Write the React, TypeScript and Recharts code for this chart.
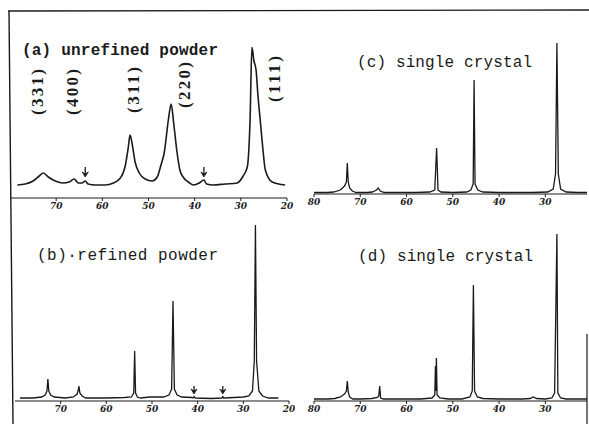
import React from 'react';
import { LineChart, Line, XAxis, YAxis, ReferenceDot } from 'recharts';

// 2θ (deg) vs intensity (a.u.)
const unrefinedPowder: [number, number][] = [
  [78.4, 13], [76.7, 14], [75.0, 17], [73.9, 21], [72.8, 25], [71.7, 21], [70.2, 17],
  [68.5, 15], [67.2, 16], [66.1, 19], [65.2, 15], [64.4, 15], [63.7, 17], [63.1, 14],
  [61.5, 13], [59.4, 13], [57.6, 15], [56.1, 20], [55.0, 33], [54.4, 50], [54.0, 63],
  [53.5, 53], [52.9, 36], [52.0, 25], [50.7, 19], [49.2, 17], [48.1, 21], [47.3, 33],
  [46.6, 45], [45.7, 78], [45.1, 94], [44.5, 73], [43.8, 45], [43.2, 28], [42.5, 21],
  [41.4, 16], [40.3, 13], [39.0, 15], [38.0, 18], [37.4, 14], [36.0, 13], [33.4, 14],
  [30.8, 15], [29.5, 22], [28.6, 31], [28.0, 78], [27.6, 151], [27.2, 138], [26.7, 128],
  [26.3, 103], [25.8, 78], [25.2, 48], [24.7, 28], [23.2, 16], [20.4, 13],
];

const refinedPowder: [number, number][] = [
  [78.9, 3], [76, 3], [74.2, 4], [73.4, 6], [73.0, 10], [72.8, 22], [72.6, 10], [72.2, 6],
  [71.4, 4], [69, 3], [67.2, 4], [66.4, 7], [66.2, 10], [66.0, 15], [65.8, 8], [65.3, 5],
  [64.5, 3], [60, 3], [56, 3.5], [54.5, 4], [54.0, 8], [53.8, 50], [53.6, 8], [53.2, 4],
  [52.5, 3], [50.5, 4], [49.5, 4], [47.5, 4], [46.3, 6], [45.7, 12], [45.4, 100],
  [45.1, 12], [44.5, 6], [43.5, 4], [41.3, 3.5], [41.0, 3], [40.8, 4.5], [40.5, 3],
  [37, 2.5], [34.7, 3], [34.5, 4.5], [34.3, 3], [32, 3.5], [30, 4], [28.8, 5], [28.0, 10],
  [27.6, 40], [27.35, 176], [27.1, 40], [26.6, 10], [25.8, 5], [24.5, 3], [22.3, 3],
];

const singleCrystalC: [number, number][] = [
  [80, 1.5], [77, 1.5], [75.8, 2], [74.3, 4], [73.4, 8], [73.0, 12], [72.8, 31], [72.6, 12],
  [72.3, 6], [71.7, 3], [70.9, 1.5], [68.5, 1.5], [67.4, 2], [66.5, 4], [66.1, 6],
  [65.7, 3], [64.8, 1.5], [58, 1.5], [55, 2], [53.9, 4], [53.5, 46], [53.2, 4], [52.6, 2],
  [50, 1.5], [47, 2], [46.1, 4], [45.6, 10], [45.4, 114], [45.2, 10], [44.6, 4],
  [43.5, 2], [40, 1.5], [33, 1.5], [29.5, 2], [28.3, 5], [27.8, 20], [27.5, 151],
  [27.2, 20], [26.7, 5], [25.5, 2], [23, 1.5], [21, 1.5],
];

const singleCrystalD: [number, number][] = [
  [80, 2], [77, 2], [75.5, 2.5], [74.3, 4], [73.4, 7], [73.0, 10], [72.8, 20], [72.6, 9],
  [72.3, 4], [71.6, 2], [70, 2], [67.5, 2.5], [66.3, 3.5], [66.0, 5], [65.8, 15],
  [65.6, 3], [65.0, 2], [60, 2], [57, 2], [54.5, 3], [53.9, 6], [53.75, 35], [53.65, 10],
  [53.55, 43], [53.4, 6], [52.8, 3], [51, 2], [48, 2], [46.3, 4], [45.8, 10], [45.55, 116],
  [45.3, 10], [44.7, 4], [43.5, 2.5], [40, 2], [35, 2], [33.3, 2.5], [32.6, 4], [31.9, 2.5],
  [30, 2], [28.6, 3], [28.0, 8], [27.5, 167], [27.3, 8], [26.7, 3], [25.5, 2], [23, 2],
  [21, 2],
];

const hklNames = ['(331)', '(400)', '(311)', '(220)', '(111)'];
const hklPeaks = [72.8, 66.0, 53.7, 45.3, 27.3];
const arrowsUnrefined = [63.7, 38.0];
const arrowsRefined = [40.8, 34.5];
const ticksLeft = [70, 60, 50, 40, 30, 20];
const ticksRight = [80, 70, 60, 50, 40, 30];

const INK = '#1a1a1a';
const MONO = '"Liberation Mono", "DejaVu Sans Mono", monospace';
const SERIF = '"Liberation Serif", "DejaVu Serif", serif';

const toRows = (pts: [number, number][]) => pts.map(([t, i]) => ({ t, i }));

// pixel placement of the rotated hkl labels relative to their peaks
const hklPlace = [
  { dx: -6, y: 92 },
  { dx: -2, y: 92 },
  { dx: 2, y: 90 },
  { dx: 14, y: 85 },
  { dx: 21, y: 79 },
];

const Arrow = (len: number, gap: number) => (props: any) => {
  const { cx, cy } = props;
  const tip = cy - gap;
  return (
    <g stroke={INK} strokeWidth={1.3}>
      <line x1={cx} y1={tip - len} x2={cx} y2={tip - 2} />
      <path d={`M${cx - 3},${tip - 5} L${cx},${tip} L${cx + 3},${tip - 5} L${cx},${tip - 3} Z`} fill={INK} strokeWidth={0.8} />
    </g>
  );
};

interface PanelProps {
  left: number;
  top: number;
  width: number;
  height: number;
  margin: { top: number; right: number; left: number; bottom: number };
  points: [number, number][];
  domainX: [number, number];
  ticks: number[];
  maxY: number;
  curve?: 'linear' | 'monotone';
  lineWidth?: number;
  children?: React.ReactNode;
}

const Panel = ({ left, top, width, height, margin, points, domainX, ticks, maxY, curve = 'linear', lineWidth = 1.3, children }: PanelProps) => (
  <div style={{ position: 'absolute', left, top }}>
    <LineChart width={width} height={height} data={toRows(points)} margin={margin}>
      <XAxis
        type="number"
        dataKey="t"
        domain={domainX}
        reversed
        allowDataOverflow
        ticks={ticks}
        interval={0}
        height={17}
        tickSize={3}
        tickMargin={2}
        axisLine={{ stroke: INK, strokeWidth: 1.2 }}
        tickLine={{ stroke: INK, strokeWidth: 1 }}
        tick={{ fontSize: 9, fontFamily: '"DejaVu Serif", serif', fontStyle: 'italic', fontWeight: 'bold', fill: '#222' }}
      />
      <YAxis hide type="number" domain={[0, maxY]} allowDataOverflow />
      <Line
        type={curve}
        dataKey="i"
        stroke={INK}
        strokeWidth={lineWidth}
        dot={false}
        isAnimationActive={false}
      />
      {children}
    </LineChart>
  </div>
);

export default function App() {
  return (
    <div style={{ position: 'absolute', left: 0, top: 0, width: 589, height: 424, background: '#fff', overflow: 'hidden' }}>
      <Panel
        left={0}
        top={0}
        width={295}
        height={215}
        margin={{ top: 47, right: 8, left: 10, bottom: 0 }}
        points={unrefinedPowder}
        domainX={[20, 80]}
        ticks={ticksLeft}
        maxY={151}
        curve="monotone"
        lineWidth={1.6}
      >
        {hklPeaks.map((p, k) => (
          <ReferenceDot
            key={hklNames[k]}
            x={p}
            y={0}
            r={0}
            shape={(props: any) => {
              const x = props.cx + hklPlace[k].dx;
              const y = hklPlace[k].y;
              return (
                <text
                  x={x}
                  y={y}
                  transform={`rotate(-90 ${x} ${y})`}
                  textAnchor="middle"
                  dominantBaseline="central"
                  fontFamily={SERIF}
                  fontSize={17}
                  fontWeight="bold"
                  fill={INK}
                  textLength={46}
                  lengthAdjust="spacing"
                >
                  {hklNames[k]}
                </text>
              );
            }}
          />
        ))}
        {arrowsUnrefined.map((a) => (
          <ReferenceDot key={a} x={a} y={17} r={0} shape={Arrow(10, 4)} />
        ))}
      </Panel>

      <Panel
        left={0}
        top={212}
        width={295}
        height={212}
        margin={{ top: 13, right: 6, left: 15, bottom: 6 }}
        points={refinedPowder}
        domainX={[20, 80]}
        ticks={ticksLeft}
        maxY={176}
      >
        {arrowsRefined.map((a) => (
          <ReferenceDot key={a} x={a} y={4} r={0} shape={Arrow(8, 3)} />
        ))}
      </Panel>

      <Panel
        left={295}
        top={0}
        width={294}
        height={212}
        margin={{ top: 43, right: 2, left: 19, bottom: 1 }}
        points={singleCrystalC}
        domainX={[21, 80]}
        ticks={ticksRight}
        maxY={151}
      />

      <Panel
        left={295}
        top={212}
        width={294}
        height={212}
        margin={{ top: 22, right: 2, left: 19, bottom: 6 }}
        points={singleCrystalD}
        domainX={[21, 80]}
        ticks={ticksRight}
        maxY={167}
      />

      <svg width={589} height={424} style={{ position: 'absolute', left: 0, top: 0, pointerEvents: 'none' }}>
        <line x1={8} y1={11} x2={589} y2={10} stroke={INK} strokeWidth={1.3} />
        <line x1={9} y1={11} x2={13} y2={424} stroke={INK} strokeWidth={1.4} />
        <line x1={587} y1={334} x2={587} y2={424} stroke={INK} strokeWidth={1.2} />
        <g fontFamily={MONO} fontSize={16} fill={INK}>
          <text x={22} y={55} fontWeight="bold" textLength={196} lengthAdjust="spacing">(a) unrefined powder</text>
          <text x={37} y={260} textLength={181} lengthAdjust="spacing">(b)·refined powder</text>
          <text x={357} y={67} textLength={175} lengthAdjust="spacing">(c) single crystal</text>
          <text x={358} y={261} textLength={175} lengthAdjust="spacing">(d) single crystal</text>
        </g>
      </svg>
    </div>
  );
}
